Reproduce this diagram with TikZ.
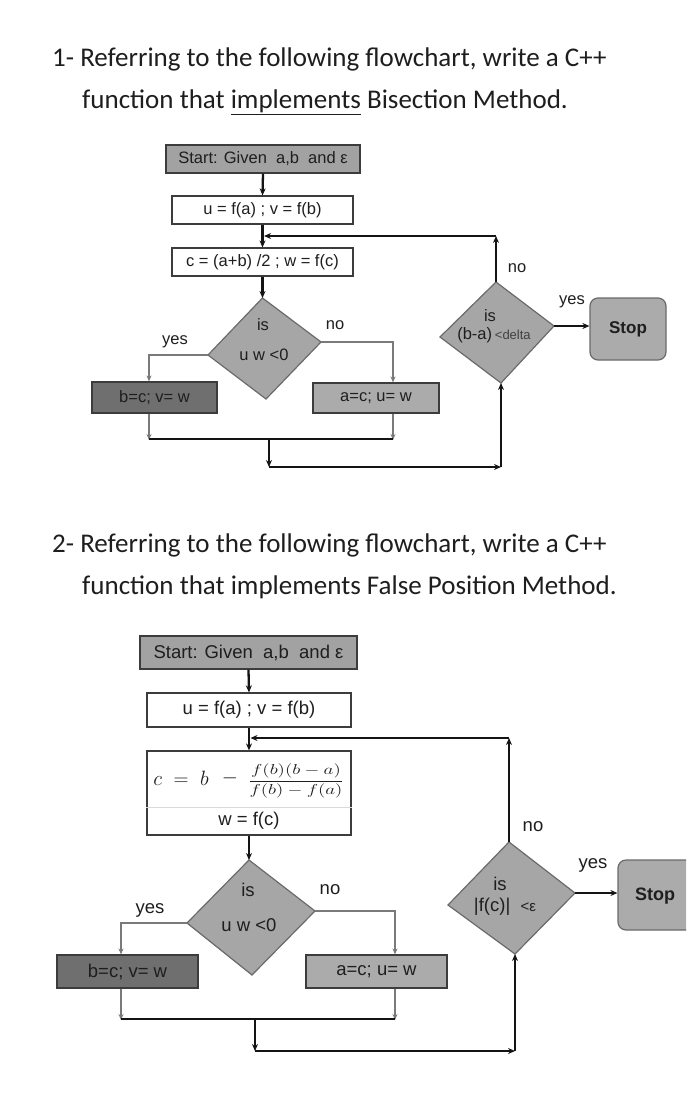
\documentclass[tikz,border=0pt]{standalone}
\usepackage{fontspec}
\setmainfont{Liberation Sans}
\newfontfamily\titlefont{Carlito}
\usetikzlibrary{arrows.meta}
\definecolor{boxline}{HTML}{3C3C3C}
\definecolor{startfill}{HTML}{A2A2A2}
\definecolor{darkfill}{HTML}{6F6F6F}
\definecolor{lightfill}{HTML}{ABABAB}
\definecolor{diafill}{HTML}{A6A6A6}
\definecolor{dialine}{HTML}{6A6A6A}
\definecolor{grayline}{HTML}{7A7A7A}
\definecolor{inktext}{HTML}{1E1E1E}
\newcommand\szA{\fontsize{16.5}{19}\selectfont}
\newcommand\szB{\fontsize{18.5}{21}\selectfont}
\newcommand\szT{\titlefont\fontsize{27}{30}\selectfont}
\tikzset{
  box/.style={draw=boxline, line width=1.2pt, inner sep=0pt, align=center, text=inktext},
  lbl/.style={inner sep=0pt, text=inktext},
  ttl/.style={inner sep=0pt, anchor=base west, text=inktext},
  dia/.style={draw=dialine, line width=1.2pt, fill=diafill},
  blk/.style={draw=black!92, line width=2.3pt, -{Stealth[length=7pt,width=6pt]}},
  blkplain/.style={draw=black!92, line width=2.3pt},
  gry/.style={draw=grayline, line width=1.4pt, -{Stealth[length=6pt,width=5pt]}},
  stopbox/.style={draw=dialine, line width=1.2pt, fill=lightfill, rounded corners=8pt},
}
\begin{document}
\begin{tikzpicture}[x=1pt,y=-1pt]
\useasboundingbox[fill=white] (0,0) rectangle (686,1119);

% ---------- titles ----------
\node[ttl] (t1a) at (52,66) {\szT 1- Referring to the following flowchart, write a C++};
\node[ttl] (t1b) at (82,108) {\szT function that \underline{implements} Bisection Method.};
\node[ttl] (t2a) at (52,552) {\szT 2- Referring to the following flowchart, write a C++};
\node[ttl] (t2b) at (82,594) {\szT function that implements False Position Method.};

% ================= flowchart 1 =================
\node[box, fill=startfill, minimum width=194pt, minimum height=28pt] (start1) at (263,159) {\szA Start: Given~~a,b~~and ε};
\node[box, fill=white, minimum width=181pt, minimum height=28pt] (u1) at (262.5,210) {\szA u = f(a) ; v = f(b)};
\node[box, fill=white, minimum width=181pt, minimum height=28pt] (c1) at (262.5,262) {\szA c = (a+b) /2 ; w = f(c)};
\coordinate (d1t) at (262.5,298);
\coordinate (d1l) at (208,355);
\coordinate (d1r) at (321,342);
\coordinate (d1b) at (266,399);
\draw[dia] (d1t) -- (d1r) -- (d1b) -- (d1l) -- cycle;
\node[lbl] (d1a) at (263,325) {\szA is};
\node[lbl] (d1c) at (264,355) {\szA u w <0};
\node[box, fill=darkfill, minimum width=125pt, minimum height=31pt] (b1) at (154.5,397.5) {\szA b=c; v= w};
\node[box, fill=lightfill, minimum width=126pt, minimum height=30pt] (a1) at (376,398) {\szA a=c; u= w};
\node[lbl] (yes1) at (175,342) {\szA yes};
\node[lbl] (no1) at (335,325) {\szA no};

\coordinate (d2t) at (496,282);
\coordinate (d2l) at (440,337);
\coordinate (d2r) at (554,326);
\coordinate (d2b) at (501,383);
\draw[dia] (d2t) -- (d2r) -- (d2b) -- (d2l) -- cycle;
\node[lbl] (d2a) at (490,316) {\szA is};
\node[lbl] (d2c) at (494,335) {\szA (b-a)\,{\fontsize{13}{14}\selectfont\color{darkgray}<delta}};
\node[stopbox, minimum width=76pt, minimum height=62pt, inner sep=0pt] (stop1) at (628,329) {\fontsize{17}{19}\selectfont\bfseries\color{inktext}Stop};
\node[lbl] (no2) at (517,268) {\szA no};
\node[lbl] (yes2) at (572,302) {\szA yes};

% connectors 1
\draw[blk] (start1.south) -- (u1.north);
\draw[blk] (u1.south) -- (c1.north);
\draw[blk] (c1.south) -- (d1t);
\coordinate (j1) at (262.5,236);
\coordinate (loop1) at (496,236);
\draw[blk] (d2t) -- (loop1);
\draw[blk] (loop1) -- ([xshift=1.5pt]j1);
\coordinate (y1c) at (149,355);
\coordinate (n1c) at (393,342);
\draw[gry] (d1l) -- (y1c) -- (y1c |- b1.north);
\draw[gry] (d1r) -- (n1c) -- (n1c |- a1.north);
\coordinate (bj1) at (149,439);
\coordinate (aj1) at (393,439);
\draw[gry] (y1c |- b1.south) -- ([yshift=-1pt]bj1);
\draw[gry] (n1c |- a1.south) -- ([yshift=-1pt]aj1);
\draw[blkplain] (bj1) -- (aj1);
\coordinate (mj1) at (269,439);
\coordinate (c1d) at (269,467);
\coordinate (c1e) at (501,467);
\draw[blk] (mj1) -- (c1d);
\draw[blk] (c1d) -- (c1e);
\draw[blk] (c1e) -- (d2b);
\draw[blk, line width=1.8pt] (d2r) -- (d2r -| stop1.west);

% ================= flowchart 2 =================
\node[box, fill=startfill, minimum width=217pt, minimum height=33pt] (start2) at (248.5,652.5) {\szB Start: Given~~a,b~~and ε};
\node[box, fill=white, minimum width=204pt, minimum height=34pt] (u2) at (249,710) {\szB u = f(a) ; v = f(b)};
\node[box, fill=white, minimum width=204pt, minimum height=84pt] (c2) at (249,793) {};
\draw[draw=gray!30, line width=0.8pt] ([yshift=-14pt]c2.west) -- ([yshift=-14pt]c2.east);
\node[lbl] (fxa) at (181,778) {\fontsize{20}{22}\selectfont $c\;=\;b$};
\node[lbl] (fxm) at (230,778) {\fontsize{20}{22}\selectfont $-$};
\node[lbl] (fxf) at (296,781) {\scalebox{1.33}[1]{\fontsize{14}{16}\selectfont $\displaystyle\frac{f(b)(b-a)}{f(b)-f(a)}$}};
\node[lbl] (wfc) at (249,821) {\szB w = f(c)};

\coordinate (d3t) at (249,860);
\coordinate (d3l) at (187,923);
\coordinate (d3r) at (315,911);
\coordinate (d3b) at (252,975);
\draw[dia] (d3t) -- (d3r) -- (d3b) -- (d3l) -- cycle;
\node[lbl] (d3a) at (248,890) {\szB is};
\node[lbl] (d3c) at (249,925) {\szB u w <0};
\node[box, fill=darkfill, minimum width=141pt, minimum height=33pt] (b2) at (127.5,971.5) {\szB b=c; v= w};
\node[box, fill=lightfill, minimum width=141pt, minimum height=33pt] (a2) at (376.5,971.5) {\szB a=c; u= w};
\node[lbl] (yes3) at (150,910) {\szB yes};
\node[lbl] (no3) at (330,890) {\szB no};

\coordinate (d4t) at (509,842);
\coordinate (d4l) at (448,905);
\coordinate (d4r) at (575,893);
\coordinate (d4b) at (515,954);
\draw[dia] (d4t) -- (d4r) -- (d4b) -- (d4l) -- cycle;
\node[lbl] (d4a) at (500,884) {\szB is};
\node[lbl] (d4c) at (505,907) {\szB |f(c)|~~{\fontsize{15}{16}\selectfont <ε}};
\begin{scope}
\clip (0,0) rectangle (686,1119);
\node[stopbox, minimum width=80pt, minimum height=70pt, inner sep=0pt] (stop2) at (658,895) {};
\end{scope}
\node[lbl] (stoptxt2) at (655,896) {\fontsize{18}{20}\selectfont\bfseries Stop};
\node[lbl] (no4) at (533,827) {\szB no};
\node[lbl] (yes4) at (593,865) {\szB yes};

% connectors 2
\draw[blk] (start2.south) -- (u2.north);
\draw[blk] (u2.south) -- (c2.north);
\draw[blk] (c2.south) -- (d3t);
\coordinate (j2) at (249,738);
\coordinate (loop2) at (509,738);
\draw[blk] (d4t) -- (loop2);
\draw[blk] (loop2) -- ([xshift=1.5pt]j2);
\coordinate (y2c) at (121,923);
\coordinate (n2c) at (395,911);
\draw[gry] (d3l) -- (y2c) -- (y2c |- b2.north);
\draw[gry] (d3r) -- (n2c) -- (n2c |- a2.north);
\coordinate (bj2) at (121,1019);
\coordinate (aj2) at (395,1019);
\draw[gry] (y2c |- b2.south) -- ([yshift=-1pt]bj2);
\draw[gry] (n2c |- a2.south) -- ([yshift=-1pt]aj2);
\draw[blkplain] (bj2) -- (aj2);
\coordinate (mj2) at (255,1019);
\coordinate (c2d) at (255,1051);
\coordinate (c2e) at (515,1051);
\draw[blk] (mj2) -- (c2d);
\draw[blk] (c2d) -- (c2e);
\draw[blk] (c2e) -- (d4b);
\draw[blk, line width=1.8pt] (d4r) -- (d4r -| stop2.west);
\end{tikzpicture}
\end{document}
